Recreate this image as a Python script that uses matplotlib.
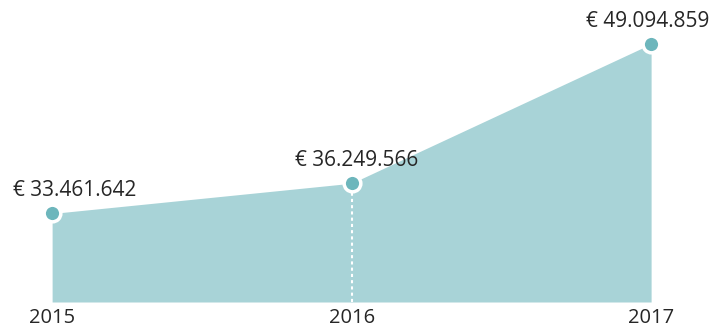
import matplotlib
matplotlib.use("Agg")
import matplotlib.pyplot as plt

years = [2015, 2016, 2017]
values = [33461642, 36249566, 49094859]
labels = ["€ 33.461.642", "€ 36.249.566", "€ 49.094.859"]
year_labels = ["2015", "2016", "2017"]

plt.rcParams['font.family'] = ['Open Sans', 'DejaVu Sans']

fig = plt.figure(figsize=(7.17, 3.32), dpi=100)
ax = fig.add_axes([0, 30/332, 1, 302/332])
ymin, ymax = 25.3e6, 53.14e6
ax.set_xlim(2014.826, 2017.220)
ax.set_ylim(ymin, ymax)

fill_c = "#a8d3d7"
mark_c = "#6db6bc"
ax.fill_between(years, values, ymin, color=fill_c, lw=0, zorder=1)
ax.vlines(years[1], ymin, values[1], colors="white", lw=1.5, linestyles=(0, (1.5, 1.5)), zorder=2)
ax.plot(years, values, ls="none", marker="o", ms=12, mfc=mark_c, mec="white", mew=2.5, zorder=3, clip_on=False)

offsets = [(23, 17), (5, 17), (-3, 17)]
for x, y, t, off in zip(years, values, labels, offsets):
    ax.annotate(t, (x, y), xytext=off, textcoords="offset pixels", ha="center", va="baseline",
                fontsize=15, color="#262626")

ax.set_xticks(years)
ax.set_xticklabels(year_labels, fontsize=14.5, color="#262626")
ax.tick_params(axis="x", length=0, pad=4)
ax.set_yticks([])
for s in ax.spines.values():
    s.set_visible(False)

fig.savefig("out.png", dpi=100)
